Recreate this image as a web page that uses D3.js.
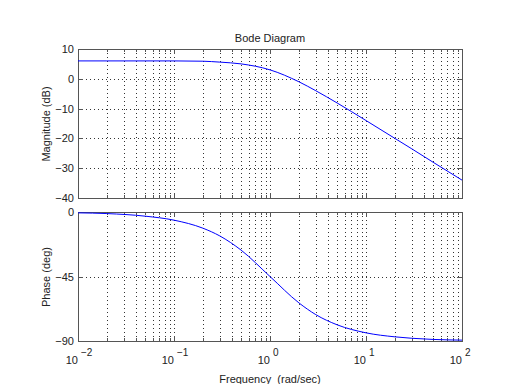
<!DOCTYPE html>
<html>
<head>
  <script src="https://d3js.org/d3.v7.min.js"></script>
  <style>
    body { margin: 0; background: #fff; }
    text { font-family: 'Liberation Sans', Arial, sans-serif; fill: #222; }
    .tick-label { font-size: 11px; }
    .grid line { stroke: #333; stroke-dasharray: 1,3; stroke-width: 1; }
  </style>
</head>
<body>
<svg id="bode" width="512" height="384"></svg>
<script>
  // values
  const freq = [0.01, 0.02, 0.05, 0.1, 0.2, 0.3, 0.5, 1, 2, 3, 5, 10, 20, 30, 50, 100];
  const magDb = [6.0, 6.0, 6.0, 6.0, 5.9, 5.6, 5.0, 3.0, -1.0, -4.0, -8.1, -14.0, -20.0, -23.5, -28.0, -34.0];
  const phaseDeg = [-0.6, -1.1, -2.9, -5.7, -11.3, -16.7, -26.6, -45, -63.4, -71.6, -78.7, -84.3, -87.1, -88.1, -88.9, -89.4];
  const magTicks = [10, 0, -10, -20, -30, -40];
  const phaseTicks = [0, -45, -90];
  const decades = [-2, -1, 0, 1, 2];

  const svg = d3.select("#bode");
  const left = 78, right = 462;
  const x = d3.scaleLog().domain([0.01, 100]).range([left, right]);
  const yMag = d3.scaleLinear().domain([-40, 10]).range([198, 49]);
  const yPh = d3.scaleLinear().domain([-90, 0]).range([341, 212]);

  // all minor + major x positions
  const xGridVals = [];
  decades.slice(0, -1).forEach(e => {
    for (let k = 1; k <= 9; k++) xGridVals.push(k * Math.pow(10, e));
  });
  xGridVals.push(100);

  function panel(y, ticks, data, fmt) {
    const top = y.range()[1], bot = y.range()[0];
    const g = svg.append("g");
    const grid = g.append("g").attr("class", "grid");
    grid.selectAll(".gx").data(xGridVals.filter(v => v > 0.01 && v < 100)).enter().append("line")
      .attr("x1", d => Math.round(x(d)) + 0.5).attr("x2", d => Math.round(x(d)) + 0.5)
      .attr("y1", top).attr("y2", bot);
    grid.selectAll(".gy").data(ticks.filter(t => y(t) > top + 1 && y(t) < bot - 1)).enter().append("line")
      .attr("x1", left).attr("x2", right)
      .attr("y1", d => Math.round(y(d)) + 0.5).attr("y2", d => Math.round(y(d)) + 0.5);

    // ticks on all four sides
    const tk = g.append("g").attr("stroke", "#555").attr("shape-rendering", "crispEdges");
    xGridVals.forEach(v => {
      const len = Number.isInteger(Math.log10(v)) && Math.abs(Math.log10(v) - Math.round(Math.log10(v))) < 1e-9 ? 5 : 3;
      const xx = Math.round(x(v)) + 0.5;
      tk.append("line").attr("x1", xx).attr("x2", xx).attr("y1", bot).attr("y2", bot - len);
      tk.append("line").attr("x1", xx).attr("x2", xx).attr("y1", top).attr("y2", top + len);
    });
    ticks.forEach(t => {
      const yy = Math.round(y(t)) + 0.5;
      tk.append("line").attr("x1", left).attr("x2", left + 5).attr("y1", yy).attr("y2", yy);
      tk.append("line").attr("x1", right).attr("x2", right - 5).attr("y1", yy).attr("y2", yy);
    });

    g.append("rect").attr("x", left + 0.5).attr("y", top + 0.5)
      .attr("width", right - left).attr("height", bot - top)
      .attr("fill", "none").attr("stroke", "#555").attr("shape-rendering", "crispEdges");

    g.selectAll(".yl").data(ticks).enter().append("text")
      .attr("class", "tick-label")
      .attr("x", left - 4).attr("y", d => y(d) + 4)
      .attr("text-anchor", "end")
      .text(d => d < 0 ? "\u2212" + Math.abs(d) : d);

    const line = d3.line().x((d, i) => x(freq[i])).y(d => y(d)).curve(d3.curveMonotoneX);
    g.append("path").datum(data).attr("d", line)
      .attr("fill", "none").attr("stroke", "#0000ff").attr("stroke-width", 1);
  }

  panel(yMag, magTicks, magDb);
  panel(yPh, phaseTicks, phaseDeg);

  // x tick labels 10^n under bottom panel
  decades.forEach(e => {
    const t = svg.append("text").attr("class", "tick-label")
      .attr("x", x(Math.pow(10, e))).attr("y", 364).attr("text-anchor", "end").text("10");
    svg.append("text").attr("class", "tick-label").style("font-size", "10px")
      .attr("x", x(Math.pow(10, e)) + 3).attr("y", 356)
      .text(e < 0 ? "\u2212" + Math.abs(e) : e);
  });

  svg.append("text").attr("x", 270).attr("y", 42).attr("text-anchor", "middle")
    .style("font-size", "11px").text("Bode Diagram");
  svg.append("text").attr("x", 270).attr("y", 383).attr("text-anchor", "middle")
    .style("font-size", "11px").attr("xml:space", "preserve").text("Frequency  (rad/sec)");
  svg.append("text").attr("transform", "translate(50,124) rotate(-90)").attr("text-anchor", "middle")
    .style("font-size", "11px").text("Magnitude (dB)");
  svg.append("text").attr("transform", "translate(50,277) rotate(-90)").attr("text-anchor", "middle")
    .style("font-size", "11px").text("Phase (deg)");
</script>
</body>
</html>
